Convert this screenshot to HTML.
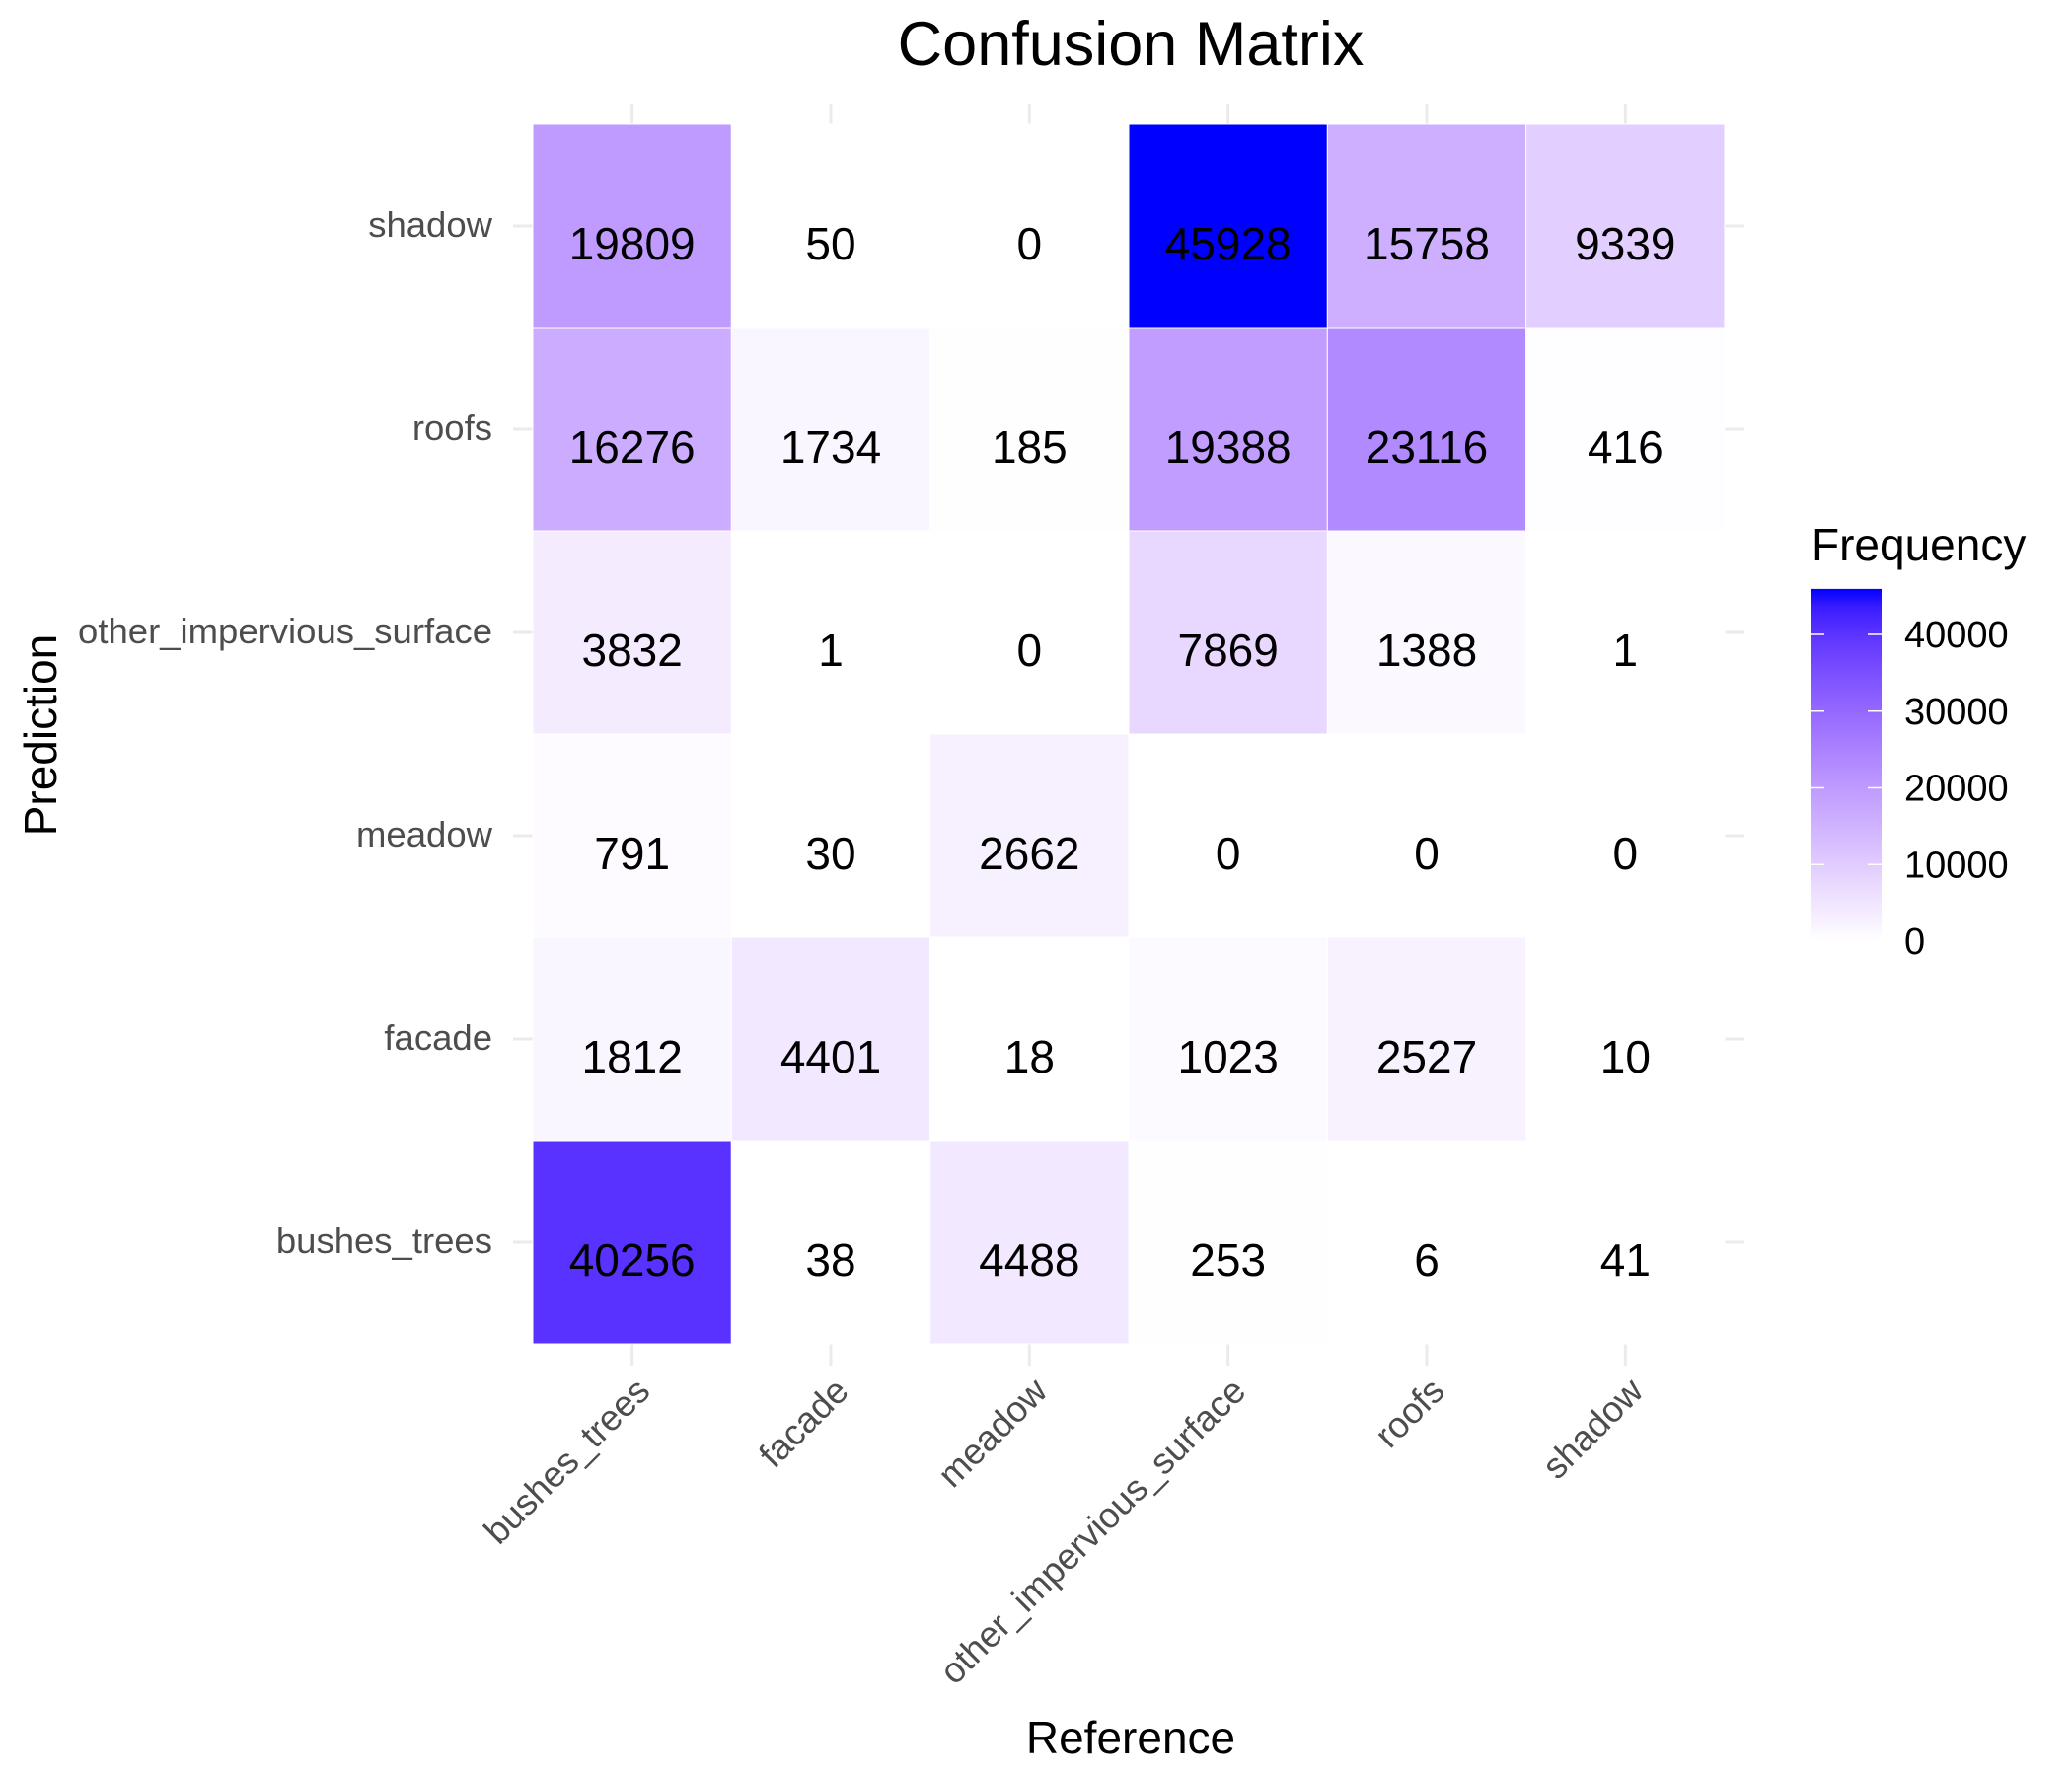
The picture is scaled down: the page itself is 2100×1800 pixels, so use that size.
<!DOCTYPE html>
<html><head><meta charset="utf-8"><style>
html,body{margin:0;padding:0;background:#fff;}
svg{display:block;font-family:"Liberation Sans",Arial,sans-serif;}
</style></head><body>
<svg id="chart" width="2100" height="1800" viewBox="0 0 2100 1800">
<text x="1146" y="66" font-size="63" text-anchor="middle">Confusion Matrix</text>
<g id="grid"></g><g id="tiles"></g><g id="labels"></g><g id="axes"></g><g id="legend"></g>
<text x="1146" y="1777" font-size="46" text-anchor="middle">Reference</text>
<text transform="translate(57,745) rotate(-90)" font-size="46" text-anchor="middle">Prediction</text>
</svg>
<script>
const xCats = ["bushes_trees","facade","meadow","other_impervious_surface","roofs","shadow"];
const yCats = ["bushes_trees","facade","meadow","other_impervious_surface","roofs","shadow"];
// values[row=prediction][col=reference]
const rowBushes = [40256,38,4488,253,6,41];
const rowFacade = [1812,4401,18,1023,2527,10];
const rowMeadow = [791,30,2662,0,0,0];
const rowOther = [3832,1,0,7869,1388,1];
const rowRoofs = [16276,1734,185,19388,23116,416];
const rowShadow = [19809,50,0,45928,15758,9339];
const values = [rowBushes,rowFacade,rowMeadow,rowOther,rowRoofs,rowShadow];
const legendTicks = [0,10000,20000,30000,40000];

const NS="http://www.w3.org/2000/svg";
const px0=540, px1=1748, py0=126, py1=1362;
const cw=(px1-px0)/xCats.length, ch=(py1-py0)/yCats.length;
const xPos=i=>px0+cw*(i+0.5);
const yPos=j=>py1-ch*(j+0.5);
const allVals=values.flat();
const vmin=Math.min(...allVals), vmax=Math.max(...allVals);

function toLab(r,g,b){
  const f=c=>{c/=255;return c<=0.04045?c/12.92:Math.pow((c+0.055)/1.055,2.4);};
  r=f(r);g=f(g);b=f(b);
  let X=(r*0.4124+g*0.3576+b*0.1805)/0.95047,Y=(r*0.2126+g*0.7152+b*0.0722),Z=(r*0.0193+g*0.1192+b*0.9505)/1.08883;
  const h=t=>t>0.008856?Math.cbrt(t):7.787*t+16/116;
  X=h(X);Y=h(Y);Z=h(Z);
  return [116*Y-16,500*(X-Y),200*(Y-Z)];
}
function fromLab(L,a,b){
  let Y=(L+16)/116,X=a/500+Y,Z=Y-b/200;
  const h=t=>{const t3=t*t*t;return t3>0.008856?t3:(t-16/116)/7.787;};
  X=h(X)*0.95047;Y=h(Y);Z=h(Z)*1.08883;
  let r=X*3.2406+Y*-1.5372+Z*-0.4986,g=X*-0.9689+Y*1.8758+Z*0.0415,bb=X*0.0557+Y*-0.204+Z*1.057;
  const f=c=>{c=c<=0.0031308?12.92*c:1.055*Math.pow(c,1/2.4)-0.055;return Math.max(0,Math.min(255,Math.round(c*255)));};
  return `rgb(${f(r)},${f(g)},${f(bb)})`;
}
const labLo=toLab(255,255,255), labHi=toLab(0,0,255);
function color(v){
  const t=(v-vmin)/(vmax-vmin);
  return fromLab(labLo[0]+(labHi[0]-labLo[0])*t,labLo[1]+(labHi[1]-labLo[1])*t,labLo[2]+(labHi[2]-labLo[2])*t);
}
function mk(tag,attrs,parent){const e=document.createElementNS(NS,tag);for(const k in attrs)e.setAttribute(k,attrs[k]);parent.appendChild(e);return e;}

const grid=document.getElementById('grid');
xCats.forEach((c,i)=>{
  const l=mk('line',{x1:xPos(i),x2:xPos(i),y1:105,y2:1384,stroke:'#EBEBEB','stroke-width':3},grid);
  
  
});
yCats.forEach((c,j)=>{
  const l=mk('line',{x1:520,x2:1768,y1:yPos(j),y2:yPos(j),stroke:'#EBEBEB','stroke-width':3},grid);
  
  
});

const tiles=document.getElementById('tiles'), labels=document.getElementById('labels');
values.forEach((row,j)=>row.forEach((v,i)=>{
  const r=mk('rect',{x:xPos(i)-cw/2,y:yPos(j)-ch/2,width:cw,height:ch,fill:color(v),stroke:'#fff','stroke-width':1},tiles);
  
  
  const t=mk('text',{x:xPos(i),y:yPos(j)+34,'font-size':46,'text-anchor':'middle',fill:'#000'},labels);
  t.textContent=v;
  
  
}));

const axes=document.getElementById('axes');
xCats.forEach((c,i)=>{
  const t=mk('text',{transform:`translate(${xPos(i)+20},${1412}) rotate(-45)`,'font-size':36.5,'text-anchor':'end',fill:'#4D4D4D'},axes);
  t.textContent=c;
  
  
});
yCats.forEach((c,j)=>{
  const t=mk('text',{x:499,y:yPos(j)+11,'font-size':36.5,'text-anchor':'end',fill:'#4D4D4D'},axes);
  t.textContent=c;
  
  
});

const lg=document.getElementById('legend');
const bx=1835,bw=72,bBot=954,perUnit=(954-643)/40000,bTop=bBot-vmax*perUnit;
const defs=mk('defs',{},lg);
const grad=mk('linearGradient',{id:'lgGrad',x1:0,y1:1,x2:0,y2:0},defs);
for(let k=0;k<=20;k++){mk('stop',{offset:k/20,'stop-color':color(vmin+(vmax-vmin)*k/20)},grad);}
const bar=mk('rect',{x:bx,y:bTop,width:bw,height:bBot-bTop,fill:'url(#lgGrad)'},lg);


const lt=mk('text',{x:1836,y:568,'font-size':46},lg);
lt.textContent='Frequency';


legendTicks.forEach(v=>{
  const y=bBot-v*perUnit;
  if(v>0){
    mk('line',{x1:bx,x2:bx+14,y1:y,y2:y,stroke:'#fff','stroke-width':1.5},lg);
    mk('line',{x1:bx+bw-14,x2:bx+bw,y1:y,y2:y,stroke:'#fff','stroke-width':1.5},lg);
  }
  const t=mk('text',{x:1930,y:y+13,'font-size':38},lg);
  t.textContent=v;
  
  
});
</script>
</body></html>
